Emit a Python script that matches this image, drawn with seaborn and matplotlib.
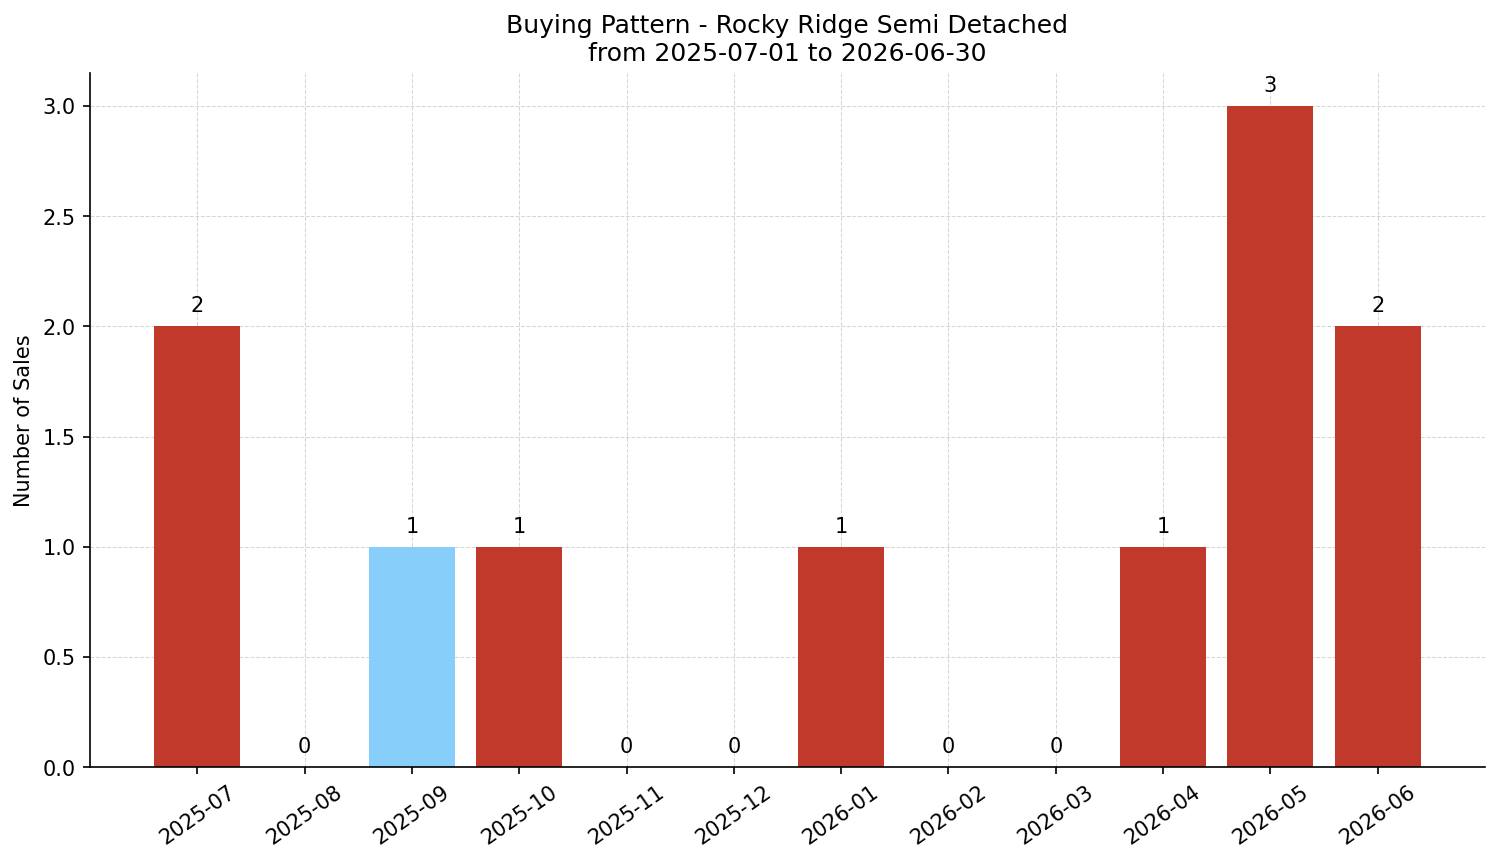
import matplotlib
matplotlib.use("Agg")
import matplotlib.pyplot as plt
import seaborn as sns
import pandas as pd

# monthly sales counts
months = ["2025-07", "2025-08", "2025-09", "2025-10", "2025-11", "2025-12",
          "2026-01", "2026-02", "2026-03", "2026-04", "2026-05", "2026-06"]
sales = [2, 0, 1, 1, 0, 0, 1, 0, 0, 1, 3, 2]
highlight = "2025-09"

red = "#c0392b"
blue = "#87cefa"
colors = [blue if m == highlight else red for m in months]

df = pd.DataFrame({"month": months, "sales": sales})

sns.set_style("white")
plt.rcParams.update({"text.color": "black", "axes.labelcolor": "black",
                     "xtick.color": "black", "ytick.color": "black",
                     "axes.edgecolor": "black"})
fig, ax = plt.subplots(figsize=(10.0, 5.75), dpi=150)

sns.barplot(data=df, x="month", y="sales", hue="month", palette=colors,
            width=0.8, saturation=1, legend=False, ax=ax, zorder=2, linewidth=0)

for c in ax.containers:
    ax.bar_label(c, fmt="%d", padding=5, fontsize=10)

ax.set_xlim(-1, 12)
ax.set_ylim(0, 3.15)
ax.grid(True, linestyle="--", linewidth=0.5, color="#cccccc", alpha=0.8, zorder=0)
ax.set_axisbelow(True)
ax.set_xlabel("")
ax.set_ylabel("Number of Sales", fontsize=10)
ax.set_title("Buying Pattern - Rocky Ridge Semi Detached\nfrom 2025-07-01 to 2026-06-30",
             fontsize=12)
ax.tick_params(axis="both", labelsize=10, length=3.5, bottom=True, left=True)
plt.setp(ax.get_xticklabels(), rotation=35)
sns.despine(ax=ax)

fig.subplots_adjust(left=0.06, right=0.99, top=0.915, bottom=0.11)
fig.savefig("out.png", dpi=150)
